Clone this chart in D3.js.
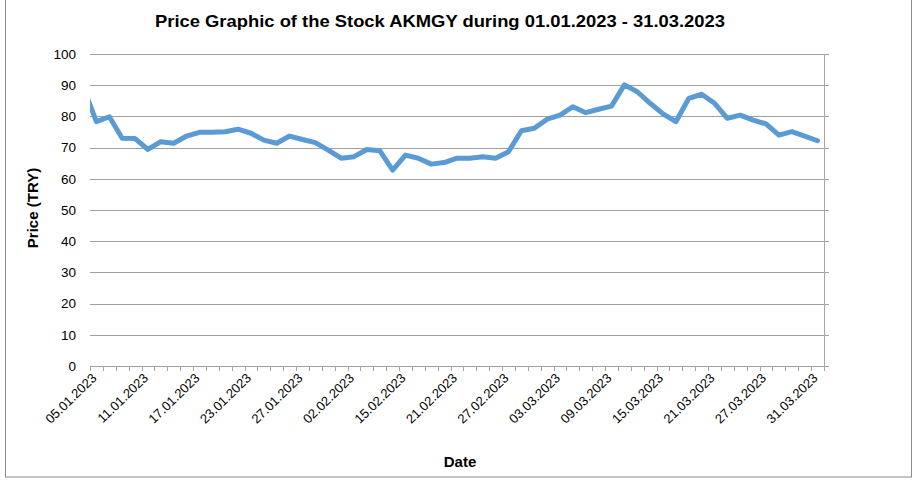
<!DOCTYPE html>
<html>
<head>
<meta charset="utf-8">
<script src="https://cdn.jsdelivr.net/npm/d3@7/dist/d3.min.js"></script>
<style>
  body { margin: 0; background: #fff; }
  text { font-family: "Liberation Sans", Arial, sans-serif; fill: #000; }
</style>
</head>
<body>
<svg id="chart" width="917" height="480"></svg>
<script>
'use strict';

// trading days shown on the category axis
var dates = [
  '05.01.2023', '06.01.2023', '09.01.2023', '10.01.2023', '11.01.2023', '12.01.2023',
  '13.01.2023', '16.01.2023', '17.01.2023', '18.01.2023', '19.01.2023', '20.01.2023',
  '23.01.2023', '24.01.2023', '25.01.2023', '26.01.2023', '27.01.2023', '30.01.2023',
  '31.01.2023', '01.02.2023', '02.02.2023', '03.02.2023', '06.02.2023', '07.02.2023',
  '15.02.2023', '16.02.2023', '17.02.2023', '20.02.2023', '21.02.2023', '22.02.2023',
  '23.02.2023', '24.02.2023', '27.02.2023', '28.02.2023', '01.03.2023', '02.03.2023',
  '03.03.2023', '06.03.2023', '07.03.2023', '08.03.2023', '09.03.2023', '10.03.2023',
  '13.03.2023', '14.03.2023', '15.03.2023', '16.03.2023', '17.03.2023', '20.03.2023',
  '21.03.2023', '22.03.2023', '23.03.2023', '24.03.2023', '27.03.2023', '28.03.2023',
  '29.03.2023', '30.03.2023', '31.03.2023'
];

// closing prices (TRY)
var prices = [
  78.3, 79.9, 73.0, 72.9, 69.4, 71.9, 71.4, 73.7, 74.9, 74.9,
  75.1, 75.9, 74.6, 72.4, 71.4, 73.7, 72.6, 71.6, 69.2, 66.6,
  67.1, 69.4, 69.0, 62.8, 67.6, 66.6, 64.7, 65.2, 66.6, 66.6,
  67.1, 66.6, 68.7, 75.4, 76.2, 79.1, 80.4, 83.1, 81.2, 82.3,
  83.3, 90.1, 87.9, 84.2, 80.8, 78.3, 85.8, 87.1, 84.2, 79.4,
  80.4, 78.8, 77.6, 74.0, 75.1, 73.7, 72.2
];

// the line enters from a point left of the first category (clipped)
var priorPrice = 89;

var yTicks = [0, 10, 20, 30, 40, 50, 60, 70, 80, 90, 100];
var labelEvery = 4;

var title = 'Price Graphic of the Stock AKMGY during 01.01.2023 - 31.03.2023';

drawChart();

function drawChart() {
  var svg = d3.select('#chart');
  var plotLeft = 90, plotRight = 824, plotTop = 54, plotBottom = 366;

  var x = d3.scaleLinear()
    .domain([-0.5, dates.length - 0.5])
    .range([plotLeft, plotRight]);

  var y = d3.scaleLinear()
    .domain([0, 100])
    .range([plotBottom, plotTop]);

  // outer frame
  svg.append('rect')
    .attr('x', 5.5).attr('y', -1)
    .attr('width', 906).attr('height', 478)
    .attr('fill', 'none')
    .attr('stroke', '#8c8c8c');

  // gridlines + right axis stubs
  svg.append('g')
    .selectAll('line')
    .data(yTicks)
    .enter()
    .append('line')
    .attr('x1', plotLeft).attr('x2', plotRight + 5)
    .attr('y1', function(d) { return Math.round(y(d)) + 0.5; })
    .attr('y2', function(d) { return Math.round(y(d)) + 0.5; })
    .attr('stroke', '#a0a0a0')
    .attr('stroke-width', 1);

  svg.append('line')
    .attr('x1', plotRight + 0.5).attr('x2', plotRight + 0.5)
    .attr('y1', plotTop).attr('y2', plotBottom + 5)
    .attr('stroke', '#a6a6a6');

  // y tick labels
  svg.append('g')
    .selectAll('text')
    .data(yTicks)
    .enter()
    .append('text')
    .attr('x', 76)
    .attr('y', function(d) { return y(d); })
    .attr('dy', '0.35em')
    .attr('text-anchor', 'end')
    .style('font-size', '13.5px')
    .text(function(d) { return d; });

  // category tick marks (between categories)
  svg.append('g')
    .selectAll('line')
    .data(d3.range(dates.length + 1))
    .enter()
    .append('line')
    .attr('x1', function(i) { return Math.round(x(i - 0.5)) + 0.5; })
    .attr('x2', function(i) { return Math.round(x(i - 0.5)) + 0.5; })
    .attr('y1', plotBottom).attr('y2', plotBottom + 5)
    .attr('stroke', '#a6a6a6');

  // category labels
  svg.append('g')
    .selectAll('text')
    .data(dates.filter(function(d, i) { return i % labelEvery === 0; }))
    .enter()
    .append('text')
    .attr('transform', function(d) {
      var i = dates.indexOf(d);
      return 'translate(' + (x(i) + 1) + ',' + (plotBottom + 13) + ') rotate(-44)';
    })
    .attr('text-anchor', 'end')
    .style('font-size', '13px')
    .text(function(d) { return d; });

  // price line
  svg.append('clipPath')
    .attr('id', 'plot-clip')
    .append('rect')
    .attr('x', plotLeft).attr('y', 0)
    .attr('width', plotRight - plotLeft).attr('height', plotBottom + 10);

  var series = [{ i: -1, v: priorPrice }].concat(prices.map(function(v, i) {
    return { i: i, v: v };
  }));

  var line = d3.line()
    .x(function(d) { return x(d.i); })
    .y(function(d) { return y(d.v); });

  svg.append('path')
    .datum(series)
    .attr('clip-path', 'url(#plot-clip)')
    .attr('d', line)
    .attr('fill', 'none')
    .attr('stroke', '#5b9bd5')
    .attr('stroke-width', 5)
    .attr('stroke-linejoin', 'round')
    .attr('stroke-linecap', 'round');

  // titles
  svg.append('text')
    .attr('x', 440).attr('y', 27)
    .attr('text-anchor', 'middle')
    .attr('textLength', 570)
    .attr('lengthAdjust', 'spacingAndGlyphs')
    .style('font-size', '17px')
    .style('font-weight', 'bold')
    .text(title);

  svg.append('text')
    .attr('transform', 'translate(38,208) rotate(-90)')
    .attr('text-anchor', 'middle')
    .style('font-size', '15px')
    .style('font-weight', 'bold')
    .text('Price (TRY)');

  svg.append('text')
    .attr('x', 460).attr('y', 467)
    .attr('text-anchor', 'middle')
    .style('font-size', '15px')
    .style('font-weight', 'bold')
    .text('Date');
}
</script>
</body>
</html>
